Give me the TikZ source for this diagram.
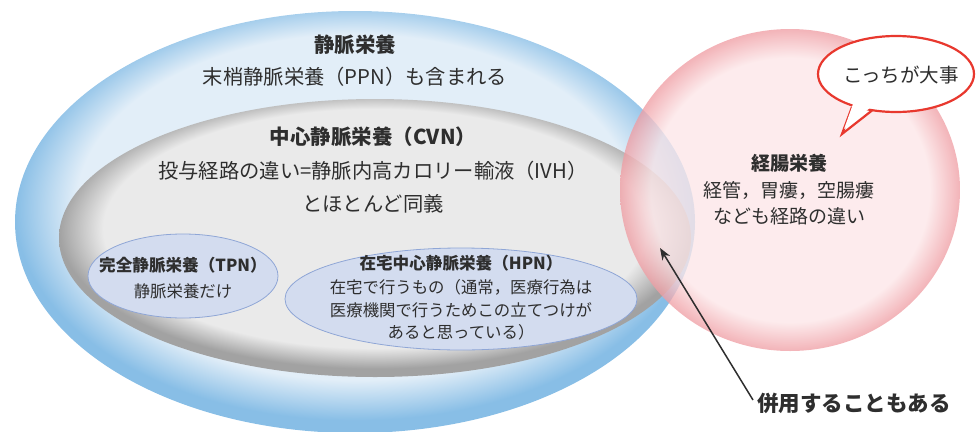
\documentclass[tikz,border=0pt]{standalone}
\usepackage{fontspec}
\setmainfont{Noto Sans CJK JP}
\usetikzlibrary{arrows.meta,shapes.geometric}
\definecolor{txt}{HTML}{2E2E2E}
\definecolor{bluein}{HTML}{E2EEF8}
\definecolor{blueout}{HTML}{88BEE6}
\definecolor{grayin}{HTML}{EAEAEA}
\definecolor{grayout}{HTML}{A2A2A2}
\definecolor{pinkin}{HTML}{FCE6E8}
\definecolor{pinkout}{HTML}{EF9EA4}
\definecolor{subfill}{HTML}{D3DCEF}
\definecolor{subline}{HTML}{8FA6D6}
\definecolor{bubred}{HTML}{E8382E}
\pgfdeclareradialshading{blueball}{\pgfpoint{0bp}{3bp}}{color(0bp)=(bluein); color(20.5bp)=(bluein); color(25bp)=(blueout); color(50bp)=(blueout)}
\pgfdeclareradialshading{grayball}{\pgfpoint{0bp}{3bp}}{color(0bp)=(grayin); color(21.5bp)=(grayin); color(25bp)=(grayout); color(50bp)=(grayout)}
\pgfdeclareradialshading{pinkball}{\pgfpoint{0bp}{0bp}}{color(0bp)=(pinkin); color(20.5bp)=(pinkin); color(25bp)=(pinkout); color(50bp)=(pinkout)}
\tikzset{
  lbl/.style={text=txt, align=center, inner sep=0pt, font=\fontsize{20.3}{24}\selectfont},
  ttl/.style={lbl, font=\fontsize{20.5}{24}\selectfont\bfseries},
  sublbl/.style={text=txt, align=center, inner sep=0pt, font=\fontsize{16.4}{22.6}\selectfont},
  subttl/.style={sublbl, font=\fontsize{16.6}{22.6}\selectfont\bfseries},
  enlbl/.style={text=txt, align=center, inner sep=0pt, font=\fontsize{19}{26}\selectfont},
  subell/.style={draw=subline, line width=0.8pt, fill=subfill},
}
\begin{document}
\begin{tikzpicture}[x=1pt,y=-1pt]
\useasboundingbox (0,0) rectangle (976,431);
% outer blue ellipse
\shade[shading=blueball] (355,222) ellipse [x radius=340, y radius=211];
% gray ellipse
\shade[shading=grayball] (375,238) ellipse [x radius=316, y radius=139];
% TPN and HPN ellipses
\draw[subell] (183,276) ellipse [x radius=95, y radius=42];
\draw[subell] (461,299) ellipse [x radius=176, y radius=51];
% pink circle
\shade[shading=pinkball, opacity=0.78] (790,190) ellipse [x radius=170, y radius=161];
% speech bubble
\draw[bubred, line width=2.2pt, line join=miter, fill=white]
  (852,107) -- (842,134) -- (872,110.5);
\fill[white] (896,74) ellipse [x radius=78, y radius=38];
\draw[bubred, line width=2.2pt] (896,74) ellipse [x radius=78, y radius=38];
\fill[white] (853,104) -- (844,129) -- (871,107) -- cycle;
% texts
\node[ttl] (iv) at (355,45) {静脈栄養};
\node[lbl] (ppn) at (355,77) {末梢静脈栄養（PPN）も含まれる};
\node[ttl] (cvn) at (373,137) {中心静脈栄養（CVN）};
\node[lbl] (ivh) at (373,171) {投与経路の違い=静脈内高カロリー輸液（IVH）};
\node[lbl] (same) at (373,204) {とほとんど同義};
\node[subttl] (tpn) at (183,265) {完全静脈栄養（TPN）};
\node[sublbl] (tpn2) at (183,291) {静脈栄養だけ};
\node[subttl] (hpn) at (461,263) {在宅中心静脈栄養（HPN）};
\node[sublbl] (hpn2) at (461,310) {在宅で行うもの（通常，医療行為は\\医療機関で行うためこの立てつけが\\あると思っている）};
\node[enlbl, font=\fontsize{19}{26}\selectfont\bfseries] (en) at (789,163) {経腸栄養};
\node[enlbl] (en2) at (789,203) {経管，胃瘻，空腸瘻\\なども経路の違い};
\node[lbl, font=\fontsize{19.5}{24}\selectfont] (imp) at (901,75) {こっちが大事};
\node[ttl, anchor=west, font=\fontsize{21.5}{24}\selectfont\bfseries] (both) at (757,403) {併用することもある};
\coordinate (tip) at (660,248);
\draw[-{Stealth[length=12pt,width=9pt]}, line width=1.5pt, txt] (both.west) ++(-4,-3) -- (tip);
\end{tikzpicture}
\end{document}
